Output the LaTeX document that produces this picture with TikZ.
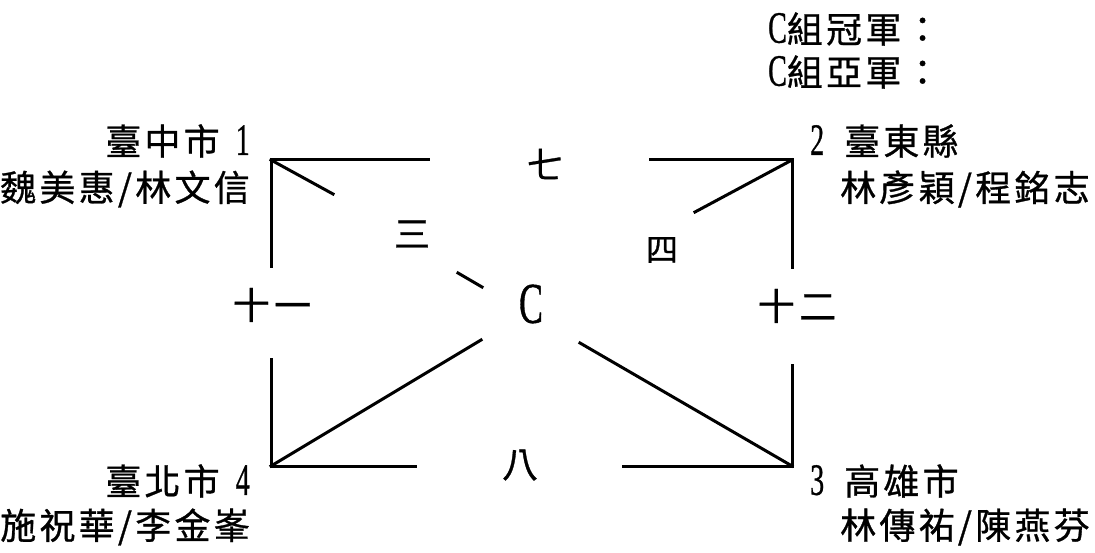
\documentclass[tikz,border=0pt]{standalone}
\usepackage{fontspec}
\usepackage{graphicx}
\newfontfamily\cjk[LetterSpace=9,FakeBold=0.8]{Noto Sans CJK TC}
\newfontfamily\cjkb[LetterSpace=12,FakeBold=0.8]{Noto Sans CJK TC}
\newfontfamily\latf[FakeBold=0.9]{Liberation Serif}
\newcommand\lt[1]{{\latf\fontsize{28}{30}\selectfont\scalebox{1}[1.6]{#1}}}
\tikzset{
  lbl/.style={inner sep=0pt, font=\cjk\fontsize{36}{38}\selectfont},
  mid/.style={inner sep=0pt, font=\cjkb\fontsize{36}{38}\selectfont},
  small/.style={inner sep=0pt, font=\cjkb\fontsize{32}{34}\selectfont},
  big/.style={inner sep=0pt, font=\cjkb\fontsize{37}{39}\selectfont},
  seg/.style={line width=3pt, line cap=rect}
}
\begin{document}
\begin{tikzpicture}[x=1pt,y=-1pt]
\useasboundingbox (0,0) rectangle (1095,553);
% corners
\coordinate (TL) at (271,160);
\coordinate (TR) at (792,160);
\coordinate (BL) at (271,466);
\coordinate (BR) at (792,466);
% segment ends
\coordinate (t1) at (428,160);
\coordinate (t2) at (650,160);
\coordinate (l1) at (271,267);
\coordinate (l2) at (271,359);
\coordinate (r1) at (792,268);
\coordinate (r2) at (792,365);
\coordinate (b1) at (415,466);
\coordinate (b2) at (623,466);
\coordinate (d1) at (333,194);
\coordinate (d2) at (458,273);
\coordinate (d3) at (482,287);
\coordinate (e1) at (695,212);
\coordinate (f1) at (481,340);
\coordinate (g1) at (580,343);
% lines
\draw[seg] (t1) -- (TL) -- (l1);
\draw[seg] (t2) -- (TR) -- (r1);
\draw[seg] (l2) -- (BL) -- (b1);
\draw[seg] (b2) -- (BR) -- (r2);
\draw[seg] (TL) -- (d1);
\draw[seg] (d2) -- (d3);
\draw[seg] (TR) -- (e1);
\draw[seg] (BL) -- (f1);
\draw[seg] (BR) -- (g1);
% centre labels
\node (C) at (531,304) {\latf\fontsize{36}{38}\selectfont\scalebox{1}[1.6]{C}};
\node[mid] (m7) at (545,164) {七};
\node[mid] (m3) at (412,234) {三};
\node[small] (m4) at (662,250) {四};
\node[mid] (m8) at (520,465) {八};
\node[big] (m11) at (272,305) {十一};
\node[big] (m12) at (797,306) {十二};
% team labels
\node[lbl,anchor=east] (n1) at (250,141) {臺中市\hspace{16pt}\lt{1}};
\node[lbl,anchor=east] (p1) at (250,189) {魏美惠/林文信};
\node[lbl,anchor=west] (n2) at (810,141) {\lt{2}\hspace{20pt}臺東縣};
\node[lbl,anchor=west] (p2) at (840,189) {林彥穎/程銘志};
\node[lbl,anchor=east] (n4) at (250,481) {臺北市\hspace{16pt}\lt{4}};
\node[lbl,anchor=east] (p4) at (250,527) {施祝華/李金峯};
\node[lbl,anchor=west] (n3) at (810,481) {\lt{3}\hspace{20pt}高雄市};
\node[lbl,anchor=west] (p3) at (840,527) {林傳祐/陳燕芬};
\node[lbl,anchor=west] (w1) at (768,29) {\lt{C}組冠軍：};
\node[lbl,anchor=west] (w2) at (768,72) {\lt{C}組亞軍：};
\end{tikzpicture}
\end{document}
